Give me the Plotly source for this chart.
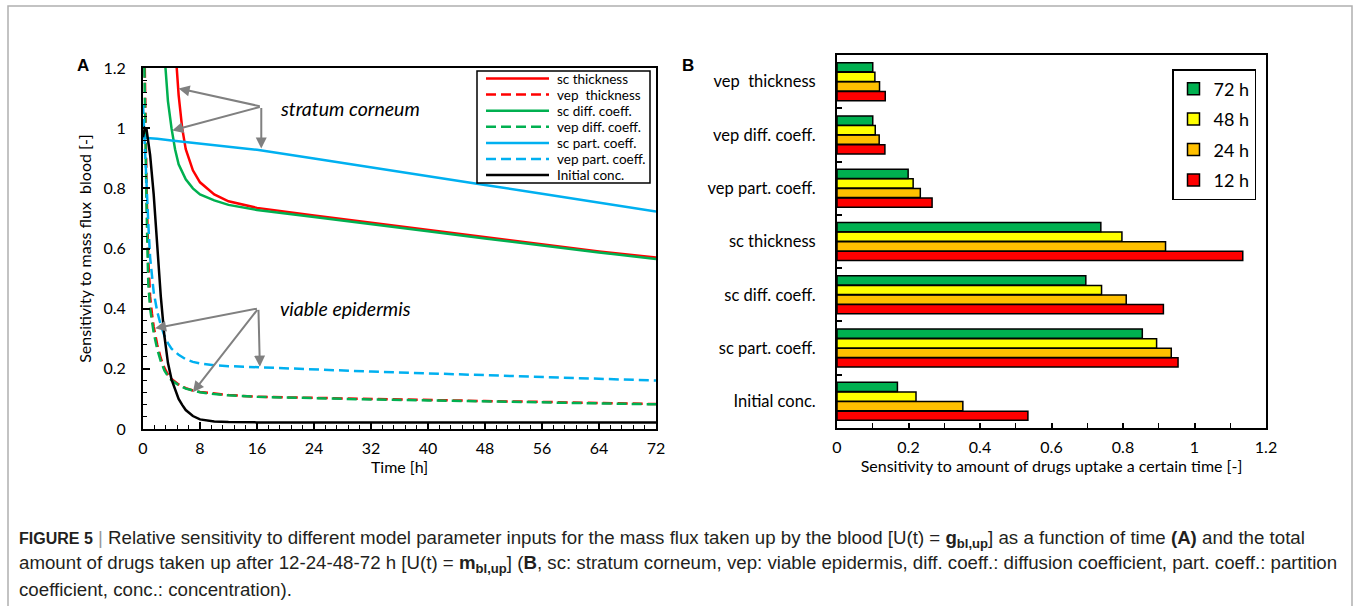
import plotly.graph_objects as go

W, H = 1354, 606
FONT = "Lato, 'Open Sans', sans-serif"
CAP_FONT = "'Liberation Sans', Arial, sans-serif"

# ---------------- Panel A: sensitivity of blood mass flux over time ----------------
sc_thickness_t = [4, 4.5, 5, 5.5, 6, 7, 8, 10, 12, 16, 24, 32, 40, 48, 56, 64, 72]
sc_thickness_v = [1.55, 1.28, 1.11, 1.0, 0.93, 0.86, 0.82, 0.78, 0.757, 0.735, 0.71, 0.686,
                  0.661, 0.637, 0.613, 0.59, 0.57]

vep_thickness_t = [0, 0.25, 0.5, 0.75, 1, 1.25, 1.5, 2, 2.5, 3, 3.5, 4, 5, 6, 7, 8, 10, 12,
                   16, 24, 32, 40, 48, 56, 64, 72]
vep_thickness_v = [1.6, 1.15, 0.8, 0.56, 0.44, 0.385, 0.34, 0.28, 0.235, 0.203, 0.181, 0.166,
                   0.148, 0.136, 0.128, 0.123, 0.117, 0.113, 0.107, 0.103, 0.099, 0.096,
                   0.093, 0.09, 0.087, 0.083]

sc_diff_t = [2.5, 3, 3.5, 4, 4.5, 5, 6, 7, 8, 10, 12, 16, 24, 32, 40, 48, 56, 64, 72]
sc_diff_v = [1.6, 1.25, 1.09, 1.0, 0.93, 0.88, 0.83, 0.80, 0.78, 0.76, 0.745, 0.728, 0.705,
             0.682, 0.657, 0.633, 0.609, 0.587, 0.565]

vep_diff_t = [0, 0.25, 0.5, 0.65, 0.75, 1, 1.25, 1.5, 2, 2.5, 3, 3.5, 4, 5, 6, 7, 8, 10, 12,
              16, 24, 32, 40, 48, 56, 64, 72]
vep_diff_v = [1.5, 1.05, 0.74, 0.57, 0.48, 0.40, 0.355, 0.32, 0.265, 0.225, 0.195, 0.176,
              0.162, 0.146, 0.134, 0.127, 0.122, 0.116, 0.112, 0.107, 0.102, 0.098, 0.095,
              0.092, 0.089, 0.086, 0.082]

sc_part_t = [0, 2, 4, 8, 12, 16, 24, 32, 40, 48, 56, 64, 72]
sc_part_v = [0.968, 0.965, 0.959, 0.948, 0.938, 0.928, 0.899, 0.869, 0.840, 0.811, 0.782,
             0.752, 0.723]

vep_part_t = [0, 0.25, 0.5, 0.75, 1, 1.5, 2, 2.5, 3, 3.5, 4, 5, 6, 7, 8, 10, 12, 16, 24, 32,
              40, 48, 56, 64, 72]
vep_part_v = [1.08, 0.93, 0.81, 0.68, 0.57, 0.455, 0.39, 0.345, 0.31, 0.285, 0.267, 0.247,
              0.232, 0.223, 0.218, 0.212, 0.209, 0.205, 0.198, 0.191, 0.185, 0.179, 0.173,
              0.167, 0.161]

init_conc_t = [0, 0.25, 0.5, 0.75, 1, 1.5, 2, 2.5, 3, 3.5, 4, 4.5, 5, 5.5, 6, 7, 8, 10, 12,
               16, 24, 32, 40, 48, 56, 64, 72]
init_conc_v = [0.97, 1.0, 0.995, 0.96, 0.91, 0.78, 0.60, 0.44, 0.31, 0.22, 0.165, 0.13, 0.10,
               0.08, 0.063, 0.043, 0.032, 0.025, 0.023, 0.022, 0.022, 0.022, 0.022, 0.022,
               0.022, 0.022, 0.022]

# ---------------- Panel B: sensitivity of cumulative uptake ----------------
parameters = ["Initial conc.", "sc part. coeff.", "sc diff. coeff.", "sc thickness",
              "vep part. coeff.", "vep diff. coeff.", "vep\u00a0 thickness"]
uptake_12h = [0.534, 0.954, 0.913, 1.135, 0.266, 0.134, 0.135]
uptake_24h = [0.352, 0.935, 0.809, 0.919, 0.233, 0.118, 0.119]
uptake_48h = [0.221, 0.894, 0.740, 0.797, 0.213, 0.107, 0.106]
uptake_72h = [0.169, 0.854, 0.696, 0.738, 0.199, 0.100, 0.100]

time_ticks = [0, 8, 16, 24, 32, 40, 48, 56, 64, 72]

RED, GREEN, BLUE, BLACK = "#FF0000", "#00B050", "#00B0F0", "#000000"
DASH = "10px,5px"


def px(xp):
    return xp / W


def py(yp):
    return 1 - yp / H


fig = go.Figure()

line_series = [
    ("sc thickness", sc_thickness_t, sc_thickness_v, RED, "solid"),
    ("vep\u00a0 thickness", vep_thickness_t, vep_thickness_v, RED, DASH),
    ("sc diff. coeff.", sc_diff_t, sc_diff_v, GREEN, "solid"),
    ("vep diff. coeff.", vep_diff_t, vep_diff_v, GREEN, DASH),
    ("sc part. coeff.", sc_part_t, sc_part_v, BLUE, "solid"),
    ("vep part. coeff.", vep_part_t, vep_part_v, BLUE, DASH),
    ("Initial conc.", init_conc_t, init_conc_v, BLACK, "solid"),
]
for name, t, v, color, dash in line_series:
    fig.add_trace(go.Scatter(
        x=t, y=v, mode="lines", name=name,
        line=dict(color=color, width=2.5, dash=dash),
        xaxis="x", yaxis="y", showlegend=False, cliponaxis=True,
    ))

bar_series = [
    ("12 h", uptake_12h, "#FF0000", 4),
    ("24 h", uptake_24h, "#FFC000", 3),
    ("48 h", uptake_48h, "#FFFF00", 2),
    ("72 h", uptake_72h, "#00B050", 1),
]
for name, vals, color, rank in bar_series:
    fig.add_trace(go.Bar(
        x=vals, y=parameters, orientation="h", name=name,
        marker=dict(color=color, line=dict(color="black", width=1.5)),
        xaxis="x2", yaxis="y2", legend="legend2", legendgroup=name, legendrank=rank,
    ))

axis_common = dict(
    showline=True, mirror=True, linecolor="black", linewidth=2,
    showgrid=False, zeroline=False, ticks="inside", tickcolor="black",
    tickwidth=1.5, automargin=False, tickfont=dict(family=FONT, size=16, color="black"),
)

fig.update_layout(
    width=W, height=H, autosize=False,
    margin=dict(l=0, r=0, t=0, b=0),
    paper_bgcolor="white", plot_bgcolor="white",
    font=dict(family=FONT, color="black"),
    barmode="group", bargap=0.28, bargroupgap=0.04,
    xaxis=dict(
        domain=[px(143), px(656)], range=[0, 72], tickvals=time_ticks, ticklen=7,
        minor=dict(dtick=1.6, tick0=0, ticks="inside", ticklen=4, tickcolor="black", tickwidth=1.2),
        title=dict(text="Time [h]", font=dict(family=FONT, size=16), standoff=6),
        ticklabelstandoff=4, anchor="y",
        **axis_common,
    ),
    yaxis=dict(
        domain=[py(429), py(68)], range=[0, 1.2], dtick=0.2, tick0=0, ticklen=7,
        minor=dict(dtick=0.04, tick0=0, ticks="inside", ticklen=4, tickcolor="black", tickwidth=1.2),
        title=dict(text="Sensitivity to mass flux\u00a0 blood [-]", font=dict(family=FONT, size=16),
                   standoff=8),
        ticklabelstandoff=12, anchor="x",
        **axis_common,
    ),
    xaxis2=dict(
        domain=[px(837), px(1266)], range=[0, 1.2], dtick=0.2, tick0=0, ticklen=5,
        minor=dict(dtick=0.1, tick0=0, ticks="inside", ticklen=5, tickcolor="black", tickwidth=1.2),
        title=dict(text="Sensitivity to amount of drugs uptake a certain time [-]",
                   font=dict(family=FONT, size=16), standoff=6),
        ticklabelstandoff=4, anchor="y2",
        **axis_common,
    ),
    yaxis2=dict(
        domain=[py(428), py(55)], type="category", range=[-0.5, 6.5],
        tickson="boundaries", ticklen=5, ticklabelstandoff=16, anchor="x2",
        **{**axis_common, "tickfont": dict(family=FONT, size=16.5, color="black")},
    ),
    legend2=dict(
        x=px(1172), y=py(69), xanchor="left", yanchor="top",
        bgcolor="white", bordercolor="black", borderwidth=1.5,
        font=dict(family=FONT, size=18, color="black"),
        traceorder="grouped", tracegroupgap=4,
    ),
)

annotations = []
shapes = []

# legend box for panel A, drawn item by item
shapes.append(dict(type="rect", xref="paper", yref="paper",
                   x0=px(477), x1=px(650), y0=py(183), y1=py(71),
                   line=dict(color="black", width=1.5), fillcolor="white", layer="above"))
for i, (name, _t, _v, color, dash) in enumerate(line_series):
    yc = 78.5 + i * 16.1
    shapes.append(dict(type="line", xref="paper", yref="paper",
                       x0=px(486), x1=px(549), y0=py(yc), y1=py(yc),
                       line=dict(color=color, width=2.5, dash=dash), layer="above"))
    annotations.append(dict(
        text=name, x=px(555), y=py(yc), xref="paper", yref="paper", showarrow=False,
        xanchor="left", yanchor="middle", align="left",
        font=dict(family=FONT, size=13.5, color="black"),
    ))

# panel letters
for letter, xp, yp in [("A", 83, 66), ("B", 688, 66)]:
    annotations.append(dict(
        text=f"<b>{letter}</b>", x=px(xp), y=py(yp), xref="paper", yref="paper",
        showarrow=False, xanchor="center", yanchor="middle",
        font=dict(family=CAP_FONT, size=17, color="black"),
    ))

# region labels with their pointer arrows
GREY = "#808080"
region_labels = [
    ("stratum corneum", 18.95, 1.064),
    ("viable epidermis", 18.95, 0.400),
]
for text, tx, ty in region_labels:
    annotations.append(dict(
        text=f"<i>{text}</i>", x=tx, y=ty, xref="x", yref="y", showarrow=False,
        xanchor="left", yanchor="middle", align="left",
        font=dict(family=FONT, size=19.5, color="black"),
    ))

pointers = [
    # tail (t, v) -> head (t, v)
    ((16.6, 1.072), (5.0, 1.132)),
    ((16.6, 1.072), (4.1, 0.992)),
    ((16.6, 1.072), (16.6, 0.932)),
    ((16.2, 0.401), (1.7, 0.335)),
    ((16.2, 0.401), (7.0, 0.122)),
    ((16.2, 0.401), (16.4, 0.207)),
]
for (ax_, ay_), (hx, hy) in pointers:
    annotations.append(dict(
        text="", x=hx, y=hy, ax=ax_, ay=ay_, xref="x", yref="y", axref="x", ayref="y",
        showarrow=True, arrowhead=2, arrowsize=1.1, arrowwidth=2, arrowcolor=GREY,
        standoff=0, startstandoff=0,
    ))

# figure caption
caption_lines = [
    "<b><span style='font-size:16px'>FIGURE 5</span></b> <span style='color:#999999'>|</span> "
    "Relative sensitivity to different model "
    "parameter inputs for the mass flux taken up by the blood [U(t) = <b>g<sub>bl,up</sub></b>] "
    "as a function of time <b>(A)</b> and the total",
    "amount of drugs taken up after 12-24-48-72 h [U(t) = <b>m<sub>bl,up</sub></b>] (<b>B</b>, "
    "sc: stratum corneum, vep: viable epidermis, diff. coeff.: diffusion coefficient, part. "
    "coeff.: partition",
    "coefficient, conc.: concentration).",
]
for line, yp in zip(caption_lines, [539, 564, 589]):
    annotations.append(dict(
        text=line, x=px(17), y=py(yp), xref="paper", yref="paper", showarrow=False,
        xanchor="left", yanchor="middle", align="left",
        font=dict(family=CAP_FONT, size=18.7, color="#231f20"),
    ))

# outer figure frame
shapes.append(dict(type="rect", xref="paper", yref="paper",
                   x0=px(8), x1=px(1352), y0=-0.2, y1=py(6),
                   line=dict(color="#b0b0b0", width=1.5), fillcolor="rgba(0,0,0,0)",
                   layer="below"))

fig.update_layout(annotations=annotations, shapes=shapes)

fig.write_html("out.html")
